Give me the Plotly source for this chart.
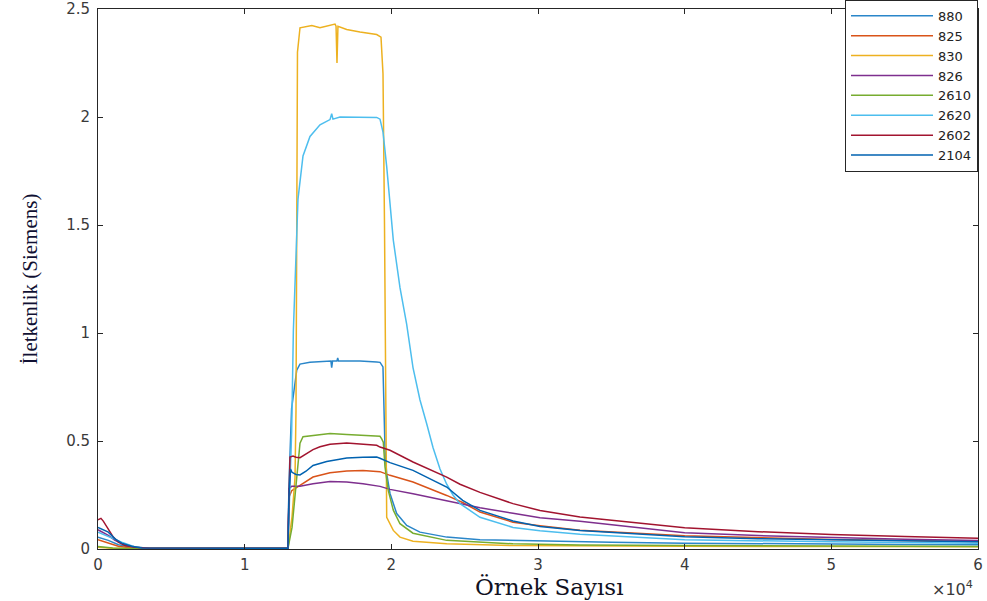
import plotly.graph_objects as go

# ---- data (x in samples, y in Siemens) ----
names = ["880", "825", "830", "826", "2610", "2620", "2602", "2104"]
colors = ["#2a86c9", "#D95319", "#EDB120", "#7E2F8E", "#77AC30", "#4DBEEE", "#A2142F", "#0062b0"]

x_880 = [0, 700, 1400, 2500, 3500, 12950, 13020, 13200, 13550, 13770, 14450, 15600, 15880, 15934, 15990, 16290, 16343, 16400,
         17860, 19000, 19230, 19430, 19500, 19570, 19680, 19910, 20365, 21050, 21950, 23775, 26045, 30136, 35000, 40000,
         45000, 50000, 55000, 60000]
y_880 = [0.055, 0.04, 0.02, 0.006, 0.003, 0.003, 0.30, 0.65, 0.828, 0.856, 0.865, 0.87, 0.87, 0.84, 0.87, 0.87, 0.884, 0.87,
         0.87, 0.866, 0.864, 0.843, 0.60, 0.457, 0.35, 0.257, 0.164, 0.109, 0.078, 0.055, 0.043, 0.037, 0.031, 0.027,
         0.024, 0.022, 0.021, 0.020]

x_825 = [0, 702, 1384, 2298, 3500, 12950, 13020, 13207, 13773, 14659, 15818, 16957, 18068, 19002, 19227, 19909, 21477,
         23775, 24900, 26045, 28295, 30136, 32863, 40000, 45000, 50000, 55000, 60000]
y_825 = [0.043, 0.027, 0.013, 0.005, 0.002, 0.002, 0.24, 0.27, 0.295, 0.333, 0.353, 0.361, 0.364, 0.36, 0.358, 0.341, 0.31,
         0.248, 0.214, 0.171, 0.124, 0.108, 0.087, 0.061, 0.051, 0.044, 0.039, 0.035]

x_830 = [0, 1000, 3000, 12950, 13230, 13432, 13500, 13548, 13600, 13773, 14580, 15136, 15800, 16159, 16230, 16295, 16360,
         16957, 17863, 19002, 19295, 19432, 19534, 19602, 19684, 20134, 20590, 21477, 23775, 28295, 32863, 40000,
         50000, 60000]
y_830 = [0.008, 0.003, 0.002, 0.002, 0.15, 0.33, 0.64, 1.5, 2.3, 2.413, 2.423, 2.413, 2.423, 2.43, 2.42, 2.25, 2.42,
         2.405, 2.394, 2.382, 2.37, 2.2, 1.5, 0.8, 0.147, 0.086, 0.055, 0.036, 0.024, 0.016, 0.014, 0.013, 0.011, 0.010]

x_826 = [0, 702, 1159, 1841, 2700, 3500, 12950, 13020, 13207, 13773, 14659, 15818, 16957, 18068, 19227, 19909, 21477,
         24682, 26045, 28295, 30136, 32863, 40000, 45000, 50000, 55000, 60000]
y_826 = [0.089, 0.063, 0.04, 0.021, 0.006, 0.002, 0.002, 0.28, 0.29, 0.29, 0.302, 0.313, 0.31, 0.302, 0.29, 0.276, 0.256,
         0.21, 0.191, 0.165, 0.145, 0.128, 0.075, 0.062, 0.052, 0.045, 0.039]

x_2610 = [0, 1000, 2000, 12950, 13230, 13432, 13773, 13977, 14659, 15818, 16957, 18068, 19227, 19343, 19452, 19568,
          19793, 20134, 20590, 21477, 23775, 28295, 32863, 40000, 50000, 60000]
y_2610 = [0.012, 0.005, 0.002, 0.002, 0.10, 0.24, 0.49, 0.52, 0.526, 0.535, 0.53, 0.526, 0.522, 0.51, 0.495, 0.38,
          0.27, 0.18, 0.117, 0.073, 0.04, 0.024, 0.019, 0.016, 0.013, 0.012]

x_2620 = [0, 900, 1616, 2523, 3500, 12950, 13091, 13207, 13320, 13500, 13636, 13977, 14454, 15136, 15818, 15934, 16020,
          16500, 17863, 19002, 19227, 19432, 19684, 20134, 20590, 21047, 21477, 21954, 22411, 22841, 23318, 23775, 24204,
          24682, 26045, 28295, 30136, 32863, 40000, 50000, 60000]
y_2620 = [0.078, 0.052, 0.032, 0.01, 0.002, 0.002, 0.30, 0.55, 1.01, 1.40, 1.62, 1.82, 1.91, 1.964, 1.988, 2.015, 1.99,
          2.0, 2.0, 1.998, 1.99, 1.93, 1.77, 1.43, 1.21, 1.04, 0.84, 0.69, 0.58, 0.47, 0.37, 0.30, 0.25,
          0.21, 0.147, 0.10, 0.084, 0.068, 0.043, 0.033, 0.027]

x_2602 = [0, 200, 361, 702, 1043, 1384, 1841, 2523, 3545, 12950, 13022, 13091, 13295, 13500, 13773, 14181, 14659, 15136,
          15818, 16957, 18068, 19002, 19227, 19909, 21477, 23775, 24682, 26045, 28295, 30136, 32863, 40000, 45000,
          50000, 55000, 60000]
y_2602 = [0.135, 0.142, 0.129, 0.094, 0.055, 0.032, 0.016, 0.008, 0.003, 0.003, 0.30, 0.426, 0.43, 0.425, 0.423, 0.44,
          0.46, 0.473, 0.485, 0.491, 0.485, 0.48, 0.472, 0.457, 0.403, 0.333, 0.30, 0.262, 0.21, 0.178, 0.148, 0.098,
          0.08, 0.067, 0.058, 0.050]

x_2104 = [0, 702, 1159, 1616, 2298, 3000, 12950, 13022, 13125, 13227, 13500, 13773, 14181, 14659, 15593, 16957, 18068,
          19002, 19227, 19909, 21477, 23775, 24863, 26045, 28295, 30136, 32863, 40000, 45000, 50000, 55000, 60000]
y_2104 = [0.10, 0.078, 0.047, 0.027, 0.013, 0.005, 0.003, 0.25, 0.37, 0.355, 0.345, 0.343, 0.36, 0.387, 0.405, 0.421,
          0.425, 0.426, 0.42, 0.40, 0.364, 0.287, 0.225, 0.179, 0.13, 0.104, 0.086, 0.057, 0.048, 0.042, 0.038, 0.034]

xs = [x_880, x_825, x_830, x_826, x_2610, x_2620, x_2602, x_2104]
ys = [y_880, y_825, y_830, y_826, y_2610, y_2620, y_2602, y_2104]

x_tickvals = [0, 10000, 20000, 30000, 40000, 50000, 60000]
x_ticktext = ["0", "1", "2", "3", "4", "5", "6"]
y_tickvals = [0, 0.5, 1, 1.5, 2, 2.5]
y_ticktext = ["0", "0.5", "1", "1.5", "2", "2.5"]

fig = go.Figure()
for n, c, x, y in zip(names, colors, xs, ys):
    fig.add_trace(go.Scatter(x=x, y=y, mode="lines", name=n,
                             line=dict(color=c, width=1.5)))

axis_color = "#262626"
tick_font = dict(family="DejaVu Sans", size=15, color="#3a3a3a")

fig.update_layout(
    width=987, height=601,
    margin=dict(l=98, r=9, t=9, b=52, autoexpand=False),
    paper_bgcolor="white", plot_bgcolor="white",
    showlegend=True,
    legend=dict(x=1, xanchor="right", y=1.017, yanchor="top",
                bgcolor="white", bordercolor=axis_color, borderwidth=1,
                font=dict(family="DejaVu Sans", size=13, color="#222222"),
                itemwidth=82, tracegroupgap=0),
    annotations=[
        dict(text="×10<sup>4</sup>", x=0.997, xref="paper", y=-0.097, yref="paper",
             xanchor="right", yanchor="bottom", showarrow=False,
             font=dict(family="DejaVu Sans", size=16, color="#3a3a3a")),
        dict(text="Örnek Sayısı", x=(549 - 98) / 880, xref="paper", y=-0.071, yref="paper",
             xanchor="center", yanchor="middle", showarrow=False,
             font=dict(family="DejaVu Serif", size=23, color="#111122")),
    ],
)

fig.update_xaxes(range=[0, 60000], tickvals=x_tickvals, ticktext=x_ticktext,
                 ticks="inside", ticklen=5, tickcolor=axis_color, tickwidth=1,
                 showline=True, linecolor=axis_color, linewidth=1, mirror="ticks",
                 showgrid=False, zeroline=False, tickfont=tick_font, ticklabelstandoff=2)
fig.update_yaxes(range=[0, 2.5], tickvals=y_tickvals, ticktext=y_ticktext,
                 ticks="inside", ticklen=5, tickcolor=axis_color, tickwidth=1,
                 showline=True, linecolor=axis_color, linewidth=1, mirror="ticks",
                 showgrid=False, zeroline=False, tickfont=tick_font, ticklabelstandoff=4,
                 title=dict(text="İletkenlik (Siemens)", standoff=22,
                            font=dict(family="Liberation Serif", size=21, color="#111133")))

fig.write_html("out.html")
